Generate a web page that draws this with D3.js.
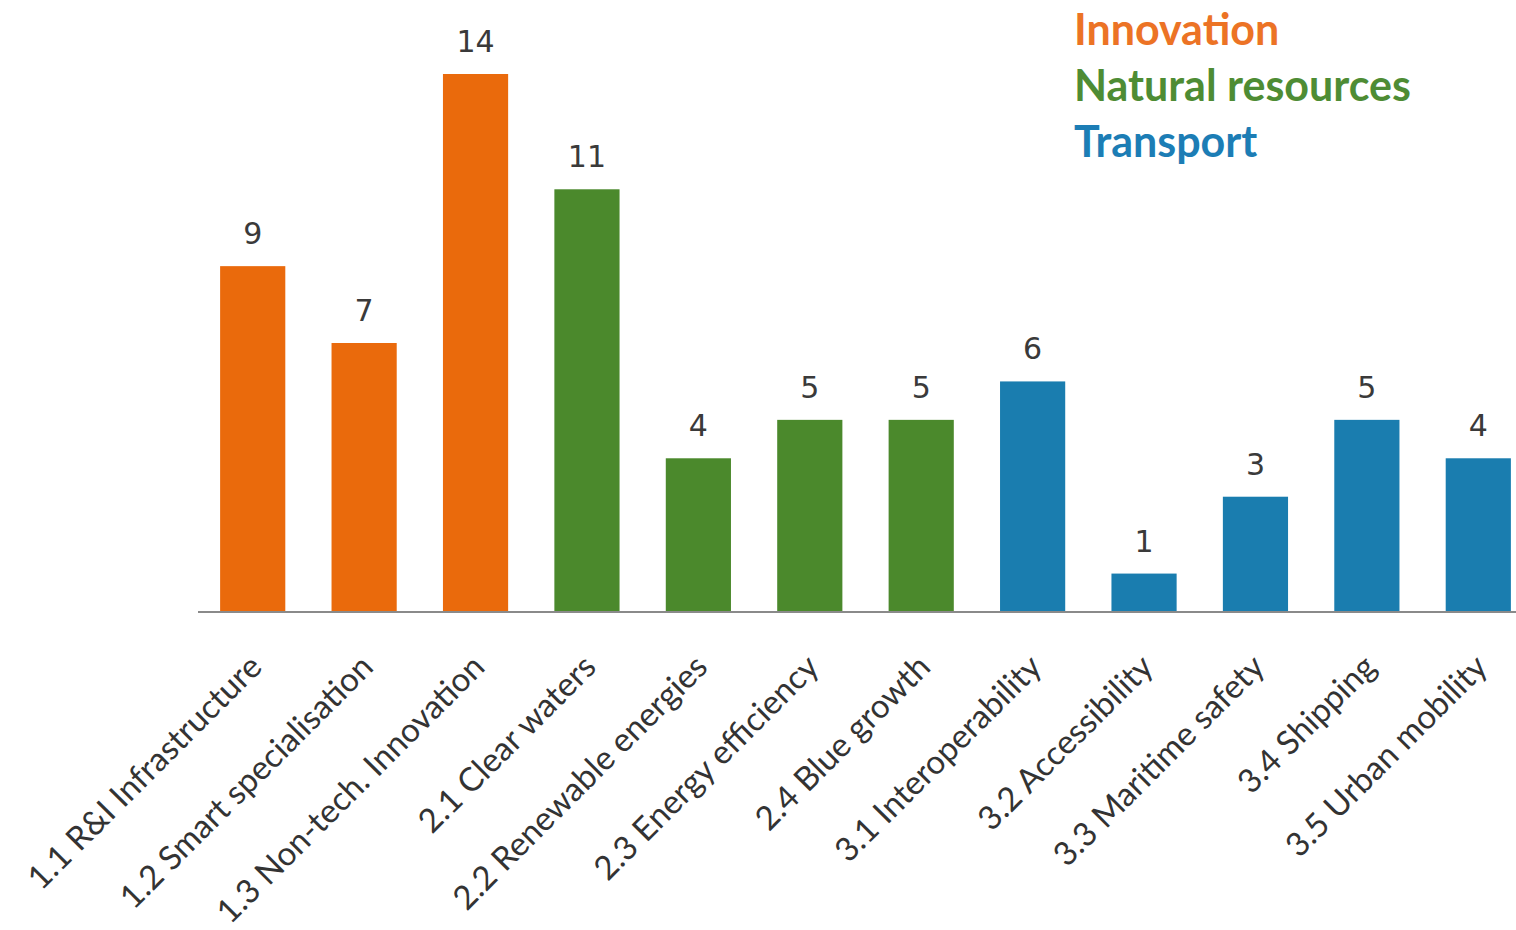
<!DOCTYPE html>
<html>
<head>
<meta charset="utf-8">
<script src="https://cdn.jsdelivr.net/npm/d3@7/dist/d3.min.js"></script>
<style>
  html, body { margin: 0; padding: 0; background: #ffffff; }
  svg { display: block; }
</style>
</head>
<body>
<svg id="chart" width="1516" height="930"></svg>
<script>
const categories = [
  "1.1 R&I Infrastructure",
  "1.2 Smart specialisation",
  "1.3 Non-tech. Innovation",
  "2.1 Clear waters",
  "2.2 Renewable energies",
  "2.3 Energy efficiency",
  "2.4 Blue growth",
  "3.1 Interoperability",
  "3.2 Accessibility",
  "3.3 Maritime safety",
  "3.4 Shipping",
  "3.5 Urban mobility"
];
const values = [9, 7, 14, 11, 4, 5, 5, 6, 1, 3, 5, 4];
const groupOf = ["Innovation","Innovation","Innovation","Natural resources","Natural resources","Natural resources","Natural resources","Transport","Transport","Transport","Transport","Transport"];
const groups = ["Innovation", "Natural resources", "Transport"];
const groupColors = ["#EA6A0C", "#4B892C", "#1A7DAF"];
const legendColors = ["#EC7325", "#4E8C34", "#1C7DB5"];

const svg = d3.select("#chart");
const baseY = 612;

const x = d3.scaleBand()
  .domain(categories)
  .range([197, 1534])
  .paddingInner(0.415)
  .paddingOuter(0.2075);

const y = d3.scaleLinear()
  .domain([0, d3.max(values)])
  .range([baseY, 74]);

const color = d3.scaleOrdinal().domain(groups).range(groupColors);

const data = categories.map((c, i) => ({ c, v: values[i], g: groupOf[i] }));

// bars
svg.append("g").selectAll("rect").data(data).join("rect")
  .attr("x", d => x(d.c))
  .attr("y", d => y(d.v))
  .attr("width", x.bandwidth())
  .attr("height", d => y(0) - y(d.v))
  .attr("fill", d => color(d.g));

// value labels
svg.append("g").selectAll("text").data(data).join("text")
  .attr("x", d => x(d.c) + x.bandwidth() / 2)
  .attr("y", d => y(d.v) - 22)
  .attr("text-anchor", "middle")
  .attr("font-family", "DejaVu Sans, Verdana, sans-serif")
  .attr("font-size", 30)
  .attr("fill", "#3a3a3a")
  .text(d => d.v);

// axis
const axis = d3.axisBottom(x).tickSize(0).tickSizeOuter(0);
const gx = svg.append("g").attr("transform", `translate(0,${baseY})`).call(axis);
gx.select(".domain").attr("stroke", "#8a8a8a").attr("stroke-width", 2)
  .attr("d", `M198,0H1516`);
gx.selectAll(".tick text")
  .attr("font-family", "Lato, 'Open Sans', sans-serif")
  .attr("font-size", 33)
  .attr("fill", "#333")
  .attr("text-anchor", "end")
  .attr("x", 0).attr("y", 0).attr("dy", null)
  .attr("transform", "translate(11,57) rotate(-45)");

// legend
const legend = svg.append("g");
groups.forEach((g, i) => {
  legend.append("text")
    .attr("x", 1074)
    .attr("y", 45 + i * 56)
    .attr("font-family", "Lato, 'Open Sans', sans-serif")
    .attr("font-weight", "bold")
    .attr("font-size", 43)
    .attr("fill", legendColors[i])
    .text(g);
});
</script>
</body>
</html>
